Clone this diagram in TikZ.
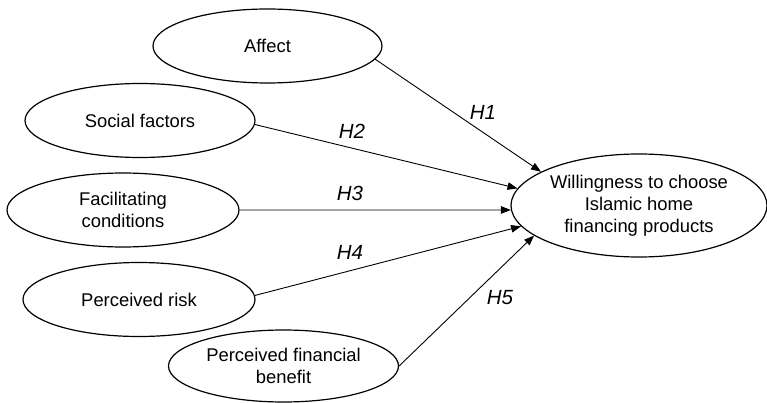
\documentclass[tikz,border=0pt]{standalone}
\usepackage{fontspec}
\setmainfont{Liberation Sans}
\usetikzlibrary{shapes.geometric,arrows.meta}

\begin{document}
\begin{tikzpicture}[x=1pt, y=-1pt,
    every node/.style={font=\fontsize{18.4}{22}\selectfont},
    factor/.style={draw, ellipse, line width=1.2pt, minimum width=230pt, minimum height=74pt, inner sep=0pt, align=center},
    hyp/.style={font=\fontsize{20.5}{24}\selectfont\itshape, inner sep=0pt},
    link/.style={-{Triangle[length=10pt,width=7.5pt]}, line width=0.9pt}]

                            \useasboundingbox (0,0) rectangle (767,403);

                            \node[factor, minimum width=229pt] (affect) at (267.5,46) {Affect};
                            \node[factor] (social) at (140,120.5) {Social factors};
                            \node[factor, minimum width=232pt] (facil) at (123,210) {Facilitating\\conditions};
                            \node[factor, minimum width=232pt] (risk) at (139,299.5) {Perceived risk};
                            \node[factor, minimum height=72pt] (benefit) at (283.5,366) {Perceived financial\\benefit};
                            \node[factor, minimum width=256pt, minimum height=103pt] (will) at (639,205.5) {Willingness to choose\\Islamic home\\financing products};

                            \draw[link] (affect.-7.5) -- (will.161.6);
                            \draw[link] (social.-2.7) -- (will.172.2);
                            \draw[link] (facil.east) -- (will.182);
                            \draw[link] (risk.2.2) -- (will.190.2);
                            \draw[link] (benefit.east) -- (will.196.8);

                            \node[hyp] (h1) at (483,112) {H1};
                            \node[hyp] (h2) at (352,131) {H2};
                            \node[hyp] (h3) at (350,193) {H3};
                            \node[hyp] (h4) at (350,252) {H4};
                            \node[hyp] (h5) at (500,298) {H5};
                        \end{tikzpicture}
\end{document}
